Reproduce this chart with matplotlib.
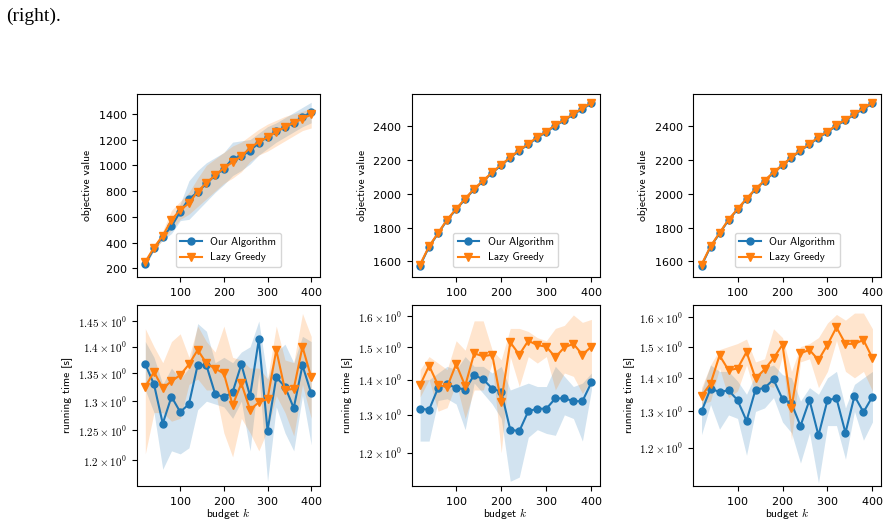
import numpy as np
import matplotlib
matplotlib.use('Agg')
import matplotlib.pyplot as plt
from matplotlib.ticker import FixedLocator, FixedFormatter, NullLocator

plt.rcParams['mathtext.fontset'] = 'cm'
plt.rcParams['axes.formatter.use_mathtext'] = True
plt.rcParams['font.size'] = 8

SANS = ['cmss10', 'DejaVu Sans']

budget = [20, 40, 60, 80, 100, 120, 140, 160, 180, 200,
          220, 240, 260, 280, 300, 320, 340, 360, 380, 400]

# --- objective value, left dataset
obj_l_ours = [231, 354, 445, 525, 640, 739, 791, 859, 921, 973,
              1051, 1070, 1114, 1174, 1221, 1265, 1296, 1330, 1377, 1411]
obj_l_ours_lo = [215, 340, 420, 470, 570, 580, 650, 720, 790, 850,
                 920, 960, 1010, 1080, 1130, 1180, 1220, 1260, 1300, 1330]
obj_l_ours_hi = [245, 370, 470, 580, 700, 880, 960, 1020, 1060, 1100,
                 1180, 1190, 1200, 1250, 1300, 1330, 1370, 1410, 1450, 1490]
obj_l_lazy = [250, 361, 453, 575, 653, 705, 796, 864, 921, 979,
              1025, 1070, 1135, 1182, 1218, 1260, 1296, 1330, 1361, 1395]
obj_l_lazy_lo = [230, 340, 420, 500, 580, 620, 680, 740, 800, 860,
                 900, 950, 1030, 1080, 1110, 1150, 1190, 1230, 1270, 1290]
obj_l_lazy_hi = [270, 380, 490, 650, 720, 790, 900, 1000, 1050, 1100,
                 1150, 1180, 1230, 1280, 1320, 1350, 1380, 1400, 1420, 1440]

# --- objective value, middle and right datasets (nearly identical)
obj_m_ours = [1576, 1687, 1766, 1845, 1908, 1969, 2027, 2076, 2125, 2169,
              2214, 2256, 2293, 2333, 2366, 2404, 2435, 2471, 2503, 2535]
obj_m_lazy = [1582, 1690, 1769, 1848, 1911, 1972, 2030, 2079, 2128, 2172,
              2217, 2259, 2296, 2336, 2369, 2407, 2438, 2474, 2506, 2539]
obj_m_spread = [4, 4, 4, 4, 4, 4, 4, 4, 4, 4,
                4, 4, 4, 4, 4, 4, 4, 4, 4, 4]

# --- running time [s], left dataset
rt_l_ours = [1.367, 1.330, 1.261, 1.308, 1.281, 1.295, 1.366, 1.365, 1.313, 1.307,
             1.316, 1.367, 1.309, 1.414, 1.249, 1.343, 1.326, 1.288, 1.365, 1.314]
rt_l_ours_lo = [1.32, 1.28, 1.185, 1.215, 1.21, 1.22, 1.285, 1.30, 1.295, 1.29,
                1.27, 1.30, 1.215, 1.35, 1.165, 1.29, 1.245, 1.215, 1.31, 1.225]
rt_l_ours_hi = [1.41, 1.38, 1.33, 1.36, 1.34, 1.36, 1.445, 1.43, 1.37, 1.38,
                1.37, 1.39, 1.40, 1.45, 1.34, 1.39, 1.405, 1.37, 1.42, 1.41]
rt_l_lazy = [1.326, 1.353, 1.323, 1.336, 1.347, 1.367, 1.394, 1.369, 1.359, 1.350,
             1.293, 1.332, 1.285, 1.298, 1.304, 1.394, 1.320, 1.322, 1.400, 1.343]
rt_l_lazy_lo = [1.21, 1.28, 1.28, 1.265, 1.27, 1.33, 1.34, 1.32, 1.32, 1.245,
                1.205, 1.27, 1.245, 1.215, 1.25, 1.31, 1.28, 1.24, 1.33, 1.27]
rt_l_lazy_hi = [1.435, 1.40, 1.37, 1.41, 1.425, 1.38, 1.44, 1.41, 1.39, 1.44,
                1.38, 1.375, 1.36, 1.36, 1.34, 1.44, 1.375, 1.37, 1.465, 1.42]

# --- running time [s], middle dataset
rt_m_ours = [1.317, 1.314, 1.376, 1.386, 1.377, 1.371, 1.414, 1.401, 1.374, 1.365,
             1.260, 1.256, 1.310, 1.317, 1.317, 1.346, 1.346, 1.338, 1.338, 1.392]
rt_m_ours_lo = [1.23, 1.23, 1.34, 1.345, 1.33, 1.26, 1.39, 1.36, 1.33, 1.29,
                1.13, 1.14, 1.24, 1.26, 1.25, 1.245, 1.30, 1.29, 1.23, 1.37]
rt_m_ours_hi = [1.40, 1.40, 1.42, 1.44, 1.43, 1.47, 1.44, 1.44, 1.42, 1.44,
                1.37, 1.38, 1.39, 1.38, 1.38, 1.44, 1.41, 1.38, 1.39, 1.42]
rt_m_lazy = [1.384, 1.442, 1.384, 1.379, 1.447, 1.382, 1.480, 1.471, 1.476, 1.336,
             1.515, 1.476, 1.520, 1.506, 1.501, 1.468, 1.499, 1.510, 1.476, 1.501]
rt_m_lazy_lo = [1.35, 1.40, 1.31, 1.32, 1.39, 1.29, 1.37, 1.37, 1.45, 1.20,
                1.47, 1.38, 1.47, 1.45, 1.47, 1.37, 1.42, 1.41, 1.36, 1.40]
rt_m_lazy_hi = [1.43, 1.47, 1.45, 1.43, 1.52, 1.49, 1.585, 1.585, 1.49, 1.46,
                1.56, 1.56, 1.55, 1.53, 1.52, 1.56, 1.57, 1.605, 1.58, 1.59]

# --- running time [s], right dataset
rt_r_ours = [1.300, 1.367, 1.357, 1.362, 1.333, 1.273, 1.364, 1.369, 1.395, 1.336,
             1.323, 1.259, 1.333, 1.233, 1.333, 1.338, 1.240, 1.345, 1.298, 1.343]
rt_r_ours_lo = [1.235, 1.32, 1.25, 1.29, 1.28, 1.18, 1.30, 1.31, 1.34, 1.27,
                1.24, 1.16, 1.24, 1.11, 1.26, 1.26, 1.17, 1.30, 1.22, 1.27]
rt_r_ours_hi = [1.36, 1.44, 1.42, 1.42, 1.39, 1.35, 1.41, 1.43, 1.44, 1.41,
                1.40, 1.33, 1.37, 1.35, 1.40, 1.42, 1.31, 1.38, 1.40, 1.42]
rt_r_lazy = [1.345, 1.382, 1.471, 1.424, 1.429, 1.482, 1.398, 1.426, 1.462, 1.506,
             1.311, 1.478, 1.489, 1.456, 1.506, 1.565, 1.509, 1.509, 1.522, 1.462]
rt_r_lazy_lo = [1.32, 1.33, 1.43, 1.34, 1.36, 1.44, 1.35, 1.38, 1.37, 1.47,
                1.22, 1.45, 1.46, 1.37, 1.42, 1.52, 1.42, 1.40, 1.42, 1.36]
rt_r_lazy_hi = [1.37, 1.44, 1.49, 1.50, 1.51, 1.525, 1.45, 1.46, 1.56, 1.53,
                1.42, 1.50, 1.51, 1.53, 1.58, 1.61, 1.59, 1.615, 1.615, 1.56]

rt_ticks_l = [1.2, 1.25, 1.3, 1.35, 1.4, 1.45]
rt_ticks_mr = [1.2, 1.3, 1.4, 1.5, 1.6]


def px_axes(fig, left, top, right, bottom):
    W, H = 888., 524.
    return fig.add_axes([left / W, 1 - bottom / H, (right - left) / W, (bottom - top) / H])


def draw(ax, k, ours, ours_lo, ours_hi, lazy, lazy_lo, lazy_hi):
    ax.plot(k, ours, 'o-', color='C0', ms=5, lw=1.5, label='Our Algorithm')
    ax.fill_between(k, ours_lo, ours_hi, color='C0', alpha=0.2, lw=0)
    ax.plot(k, lazy, 'v-', color='C1', ms=5.5, lw=1.5, label='Lazy Greedy')
    ax.fill_between(k, lazy_lo, lazy_hi, color='C1', alpha=0.2, lw=0)
    ax.tick_params(labelsize=8)


def log_ticks(ax, ticks):
    ax.set_yscale('log')
    ax.yaxis.set_major_locator(FixedLocator(ticks))
    ax.yaxis.set_major_formatter(FixedFormatter([r'$%g\times10^{0}$' % t for t in ticks]))
    ax.yaxis.set_minor_locator(NullLocator())


fig = plt.figure(figsize=(8.88, 5.24), dpi=100)
fig.text(6 / 888., 1 - 21 / 524., '(right).', fontsize=14,
         family=['Liberation Serif', 'DejaVu Serif'], va='baseline')

cols = [(137, 319.5), (411.5, 600), (693, 881)]

obj_sets = [
    (obj_l_ours, obj_l_ours_lo, obj_l_ours_hi, obj_l_lazy, obj_l_lazy_lo, obj_l_lazy_hi, (136, 1554)),
    (obj_m_ours, np.subtract(obj_m_ours, obj_m_spread), np.add(obj_m_ours, obj_m_spread),
     obj_m_lazy, np.subtract(obj_m_lazy, obj_m_spread), np.add(obj_m_lazy, obj_m_spread), (1511, 2591)),
    (obj_m_ours, np.subtract(obj_m_ours, obj_m_spread), np.add(obj_m_ours, obj_m_spread),
     obj_m_lazy, np.subtract(obj_m_lazy, obj_m_spread), np.add(obj_m_lazy, obj_m_spread), (1511, 2591)),
]
rt_sets = [
    (rt_l_ours, rt_l_ours_lo, rt_l_ours_hi, rt_l_lazy, rt_l_lazy_lo, rt_l_lazy_hi, (1.159, 1.482), rt_ticks_l),
    (rt_m_ours, rt_m_ours_lo, rt_m_ours_hi, rt_m_lazy, rt_m_lazy_lo, rt_m_lazy_hi, (1.120, 1.639), rt_ticks_mr),
    (rt_r_ours, rt_r_ours_lo, rt_r_ours_hi, rt_r_lazy, rt_r_lazy_lo, rt_r_lazy_hi, (1.104, 1.644), rt_ticks_mr),
]

for (left, right), o, r in zip(cols, obj_sets, rt_sets):
    ax = px_axes(fig, left, 94, right, 276.5)
    draw(ax, budget, *o[:6])
    ax.set_ylim(*o[6])
    ax.set_xticks([100, 200, 300, 400])
    ax.set_ylabel('objective value', family=SANS, fontsize=8.3)
    ax.legend(loc='lower center', prop={'family': SANS, 'size': 7.8},
              borderaxespad=0.9)

    ax = px_axes(fig, left, 305, right, 485.5)
    draw(ax, budget, *r[:6])
    log_ticks(ax, r[7])
    ax.set_ylim(*r[6])
    ax.set_xticks([100, 200, 300, 400])
    ax.set_ylabel('running time [s]', family=SANS, fontsize=8.3)
    ax.set_xlabel(r'budget $k$', family=SANS, fontsize=8.3, labelpad=-1)

fig.savefig('out.png', dpi=100)
